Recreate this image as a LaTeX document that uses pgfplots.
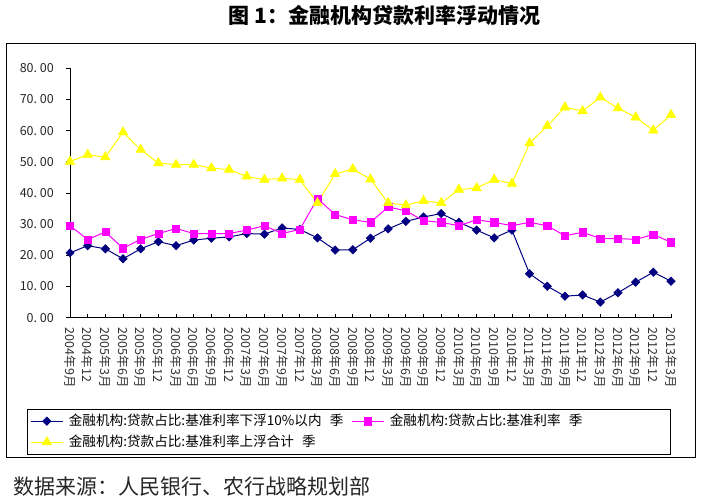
\documentclass[border=0pt]{standalone}
\usepackage{fontspec}
\setmainfont{Noto Sans CJK SC}
\usepackage{pgfplots}
\pgfplotsset{compat=1.18}
\definecolor{navyc}{HTML}{000080}
\definecolor{magc}{HTML}{FF00FF}
\definecolor{yelc}{HTML}{FFFF00}
\pgfplotstableread{
x low base up
0 20.8 29.5 50.1
1 23.1 25.1 52.3
2 22.1 27.5 51.5
3 18.9 22.3 59.5
4 22.1 25.1 53.9
5 24.4 27.0 49.6
6 23.1 28.6 49.1
7 24.9 27.0 49.1
8 25.5 27.0 48.0
9 25.9 27.0 47.5
10 27.0 28.1 45.3
11 26.8 29.5 44.3
12 28.8 27.0 44.7
13 28.3 28.3 44.3
14 25.6 38.2 36.8
15 21.7 33.1 46.1
16 21.8 31.4 47.7
17 25.5 30.6 44.4
18 28.5 35.5 36.8
19 30.9 34.3 36.1
20 32.3 31.1 37.5
21 33.4 30.6 36.8
22 30.6 29.5 41.1
23 28.1 31.4 41.6
24 25.6 30.6 44.3
25 28.1 29.5 43.0
26 14.1 30.6 56.0
27 10.1 29.5 61.5
28 6.9 26.3 67.5
29 7.3 27.4 66.3
30 5.0 25.4 70.7
31 8.0 25.4 67.2
32 11.4 25.1 64.3
33 14.6 26.7 60.1
34 11.7 24.2 65.1
}\datatable
\begin{document}
\begin{tikzpicture}
\path[use as bounding box] (0,0) rectangle (701bp,-501bp);
\draw[line width=1bp] (6bp,-43bp) rectangle (695bp,-457bp);
\node[font=\fontsize{21bp}{24bp}\selectfont\bfseries, inner sep=0pt] at (384.5bp,-15bp) {图 1：金融机构贷款利率浮动情况};
\node[anchor=west, inner sep=0pt, font=\fontsize{21bp}{24bp}\selectfont, text=black!85] at (13bp,-487bp) {数据来源：人民银行、农行战略规划部};
\begin{axis}[
  at={(70bp,-317.7bp)}, anchor=south west,
  scale only axis, width=601bp, height=249.4bp,
  xmin=0, xmax=34, ymin=0, ymax=80,
  enlargelimits=false, clip=false,
  axis lines=left, axis line style={-, line width=0.9bp, black},
  xtick={0,...,34},
  xticklabels={2004年9月,2004年12,2005年3月,2005年6月,2005年9月,2005年12,2006年3月,2006年6月,2006年9月,2006年12,2007年3月,2007年6月,2007年9月,2007年12,2008年3月,2008年6月,2008年9月,2008年12,2009年3月,2009年6月,2009年9月,2009年12,2010年3月,2010年6月,2010年9月,2010年12,2011年3月,2011年6月,2011年9月,2011年12,2012年3月,2012年6月,2012年9月,2012年12,2013年3月},
  ytick={0,10,...,80},
  yticklabels={0.\ 00,10.\ 00,20.\ 00,30.\ 00,40.\ 00,50.\ 00,60.\ 00,70.\ 00,80.\ 00},
  xtick align=inside, ytick align=outside,
  major tick length=4bp,
  tick style={black, line width=0.8bp},
  xticklabel style={rotate=-90, anchor=west, inner xsep=10bp, inner ysep=0pt, text=black!80, font=\fontsize{12.5bp}{13bp}\selectfont},
  yticklabel style={anchor=east, inner xsep=12bp, inner ysep=0pt, text=black!85, font=\fontsize{12.5bp}{13bp}\selectfont},
  legend style={at={(axis description cs:-0.07155,-0.3661)}, anchor=north west, draw=black, line width=0.8bp,
    legend columns=2, font=\fontsize{13.6bp}{15bp}\selectfont, inner xsep=3bp, inner ysep=3.5bp,
    nodes={inner sep=1.5bp, text depth=0.2em}, row sep=4.5bp,
    /tikz/every odd column/.append style={column sep=4bp},
    /tikz/every even column/.append style={column sep=3bp},
    /tikz/column 2/.style={text width=278bp},
    /tikz/column 4/.style={text width=276bp}},
  legend cell align=left,
  legend image code/.code={\draw[mark repeat=2, mark phase=2, #1] plot coordinates {(0bp,0bp) (16bp,0bp) (32bp,0bp)};},
]
\addplot[navyc, line width=1bp, mark=square*, mark size=3bp, mark options={rotate=45, fill=navyc, draw=navyc, line width=0.5bp}] table[x=x, y=low] {\datatable};
\addlegendentry{金融机构:贷款占比:基准利率下浮10\%以内\hspace{0.6em}季}
\addplot[magc, line width=1bp, mark=square*, mark size=3.6bp, mark options={fill=magc, draw=magc, line width=0.5bp}] table[x=x, y=base] {\datatable};
\addlegendentry{金融机构:贷款占比:基准利率\hspace{0.6em}季}
\addplot[yelc, line width=1bp, mark=triangle*, mark size=5.5bp, mark options={fill=yelc, draw=yelc, line width=0.5bp}] table[x=x, y=up] {\datatable};
\addlegendentry{金融机构:贷款占比:基准利率上浮合计\hspace{0.6em}季}
\end{axis}
\end{tikzpicture}
\end{document}
